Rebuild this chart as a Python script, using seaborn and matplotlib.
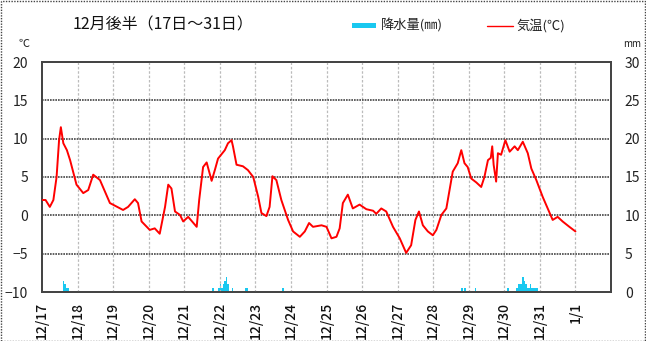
import matplotlib
matplotlib.use("Agg")
import matplotlib.pyplot as plt
import seaborn as sns
import pandas as pd
from matplotlib.patches import Rectangle
from matplotlib.lines import Line2D

# ---- data ----
title = "12月後半（17日～31日）"
day_labels = ["12/17", "12/18", "12/19", "12/20", "12/21", "12/22", "12/23", "12/24",
              "12/25", "12/26", "12/27", "12/28", "12/29", "12/30", "12/31", "1/1"]

# temperature: time in days since 12/17 00:00, value in degC
temp_day = [0.0, 0.1, 0.22, 0.32, 0.41, 0.48, 0.53, 0.6, 0.7, 0.79, 0.97, 1.16, 1.3, 1.44,
            1.63, 1.91, 2.28, 2.42, 2.61, 2.7, 2.8, 3.03, 3.17, 3.31, 3.46, 3.55, 3.64,
            3.74, 3.88, 3.97, 4.11, 4.35, 4.42, 4.53, 4.63, 4.77, 4.86, 4.95, 5.14, 5.23,
            5.33, 5.37, 5.47, 5.65, 5.79, 5.94, 6.08, 6.17, 6.31, 6.4, 6.48, 6.59, 6.73,
            6.92, 7.06, 7.25, 7.39, 7.51, 7.62, 7.86, 8.0, 8.14, 8.28, 8.37, 8.46, 8.6,
            8.74, 8.93, 9.12, 9.31, 9.4, 9.54, 9.68, 9.87, 10.06, 10.24, 10.38, 10.5,
            10.6, 10.71, 10.85, 10.99, 11.09, 11.23, 11.37, 11.46, 11.55, 11.69, 11.79,
            11.88, 11.97, 12.07, 12.21, 12.35, 12.44, 12.54, 12.62, 12.66, 12.7, 12.77,
            12.82, 12.91, 13.03, 13.15, 13.29, 13.38, 13.52, 13.66, 13.76, 13.9, 14.08,
            14.22, 14.36, 14.5, 14.64, 14.83, 15.0]
temp_val = [2.0, 2.0, 1.1, 2.0, 5.0, 9.8, 11.5, 9.4, 8.5, 7.2, 4.0, 2.9, 3.3, 5.3,
            4.6, 1.6, 0.7, 1.1, 2.1, 1.6, -0.8, -1.9, -1.7, -2.4, 1.1, 4.0, 3.5,
            0.5, 0.05, -0.8, -0.2, -1.5, 2.0, 6.3, 6.9, 4.5, 5.9, 7.4, 8.5, 9.4,
            9.8, 9.0, 6.6, 6.4, 5.9, 5.0, 2.4, 0.3, -0.1, 1.1, 5.1, 4.6, 2.0,
            -0.6, -2.1, -2.8, -2.1, -1.0, -1.5, -1.3, -1.5, -3.0, -2.8, -1.7, 1.6, 2.7,
            0.9, 1.4, 0.8, 0.6, 0.2, 0.9, 0.5, -1.5, -3.0, -4.9, -3.9, -0.6,
            0.5, -1.3, -2.1, -2.6, -1.9, 0.05, 0.9, 3.3, 5.7, 6.8, 8.5,
            6.8, 6.3, 4.8, 4.3, 3.7, 5.0, 7.2, 7.5, 9.0, 6.6, 4.4,
            8.1, 7.9, 9.8, 8.3, 9.0, 8.5, 9.6, 8.1, 6.1, 4.6, 2.4,
            0.9, -0.6, -0.2, -0.8, -1.5, -2.1]

# precipitation: hour since 12/17 00:00, value in mm
precip_hour = [14, 15, 16, 17, 115, 119, 120, 121, 122, 123, 124, 125, 128, 137, 138,
               162, 283, 285, 292, 314, 320, 321, 322, 323, 324, 325, 326, 327, 328,
               329, 330, 331, 332, 333, 334]
precip_mm = [1.5, 1.0, 0.5, 0.5, 0.5, 0.5, 1.0, 0.5, 1.0, 1.5, 2.0, 1.0, 0.5, 0.5, 0.5,
             0.5, 0.5, 0.5, 0.5, 0.5, 0.5, 1.0, 1.0, 1.0, 2.0, 1.5, 1.0, 0.5, 0.5,
             1.0, 0.5, 0.5, 0.5, 0.5, 0.5]

# ---- style ----
sns.set_style("white")
plt.rcParams['font.family'] = ['Noto Sans CJK JP', 'DejaVu Sans']

W, H = 646, 341
fig = plt.figure(figsize=(W / 100, H / 100), dpi=100)
ax = fig.add_axes([42 / W, 1 - 292 / H, (611 - 42) / W, (292 - 62) / H])
ax2 = ax.twinx()

# precipitation bars (secondary axis)
pdf = pd.DataFrame({"day": [h / 24 + 1 / 48 for h in precip_hour], "mm": precip_mm})
ax2.bar(pdf["day"], pdf["mm"], width=1 / 24, color="#19c8f0", linewidth=0, zorder=2)
ax2.set_ylim(0, 30)
ax2.set_yticks(range(0, 31, 5))

# temperature line
tdf = pd.DataFrame({"day": temp_day, "temp": temp_val})
ax.set_zorder(ax2.get_zorder() + 1)
ax.patch.set_visible(False)
sns.lineplot(data=tdf, x="day", y="temp", ax=ax, color="#ff0000", linewidth=1.4,
             zorder=5, legend=False)

ax.set_xlim(0, 16)
ax.set_ylim(-10, 20)
ax.set_yticks(range(-10, 21, 5))
ax.set_xticks(range(0, 16))
ax.set_xticklabels(day_labels, rotation=90)
ax.set_xlabel("")
ax.set_ylabel("")

# grids
for d in range(1, 16):
    ax.axvline(d, color="#bbbbbb", linewidth=0.9, linestyle=(0, (2, 1.5)), zorder=1)
for t in range(-5, 20, 5):
    ax.axhline(t, color="#444444", linewidth=1.2, linestyle=(0, (1, 0.6)), zorder=1)

for a in (ax, ax2):
    for s in a.spines.values():
        s.set_color("#444444")
        s.set_linewidth(1.3)
ax.tick_params(axis="y", labelsize=10, length=0, pad=10, colors="#222222")
ax.tick_params(axis="x", labelsize=10, length=3, direction="in", pad=7, colors="#111111")
ax2.tick_params(axis="y", labelsize=10, length=0, pad=10, colors="#222222")
for lbl in ax.get_xticklabels():
    lbl.set_fontweight("medium")

# texts
fig.text(73 / W, 1 - 25 / H, title, fontsize=11.5, va="center", ha="left", color="#111111")
fig.text(24 / W, 1 - 44 / H, "℃", fontsize=8, va="center", ha="center", color="#222222")
fig.text(632 / W, 1 - 44 / H, "mm", fontsize=7, va="center", ha="center", color="#222222")

# legend
fig.patches.append(Rectangle((352 / W, 1 - 28 / H), 24 / W, 5 / H, transform=fig.transFigure,
                             facecolor="#19c8f0", edgecolor="none"))
fig.text(381 / W, 1 - 26 / H, "降水量(㎜)", fontsize=9.5, va="center", ha="left", color="#222222")
fig.lines.append(Line2D([487 / W, 513 / W], [1 - 26 / H, 1 - 26 / H], transform=fig.transFigure,
                        color="#ff0000", linewidth=1))
fig.text(516 / W, 1 - 26 / H, "気温(℃)", fontsize=9.5, va="center", ha="left", color="#222222")

# outer dotted border
fig.patches.append(Rectangle((0.5 / W, 0.5 / H), (W - 1.5) / W, (H - 1.5) / H,
                             transform=fig.transFigure, facecolor="none",
                             edgecolor="#444444", linewidth=1, linestyle=(0, (1, 1))))

fig.savefig("out.png", dpi=100)
